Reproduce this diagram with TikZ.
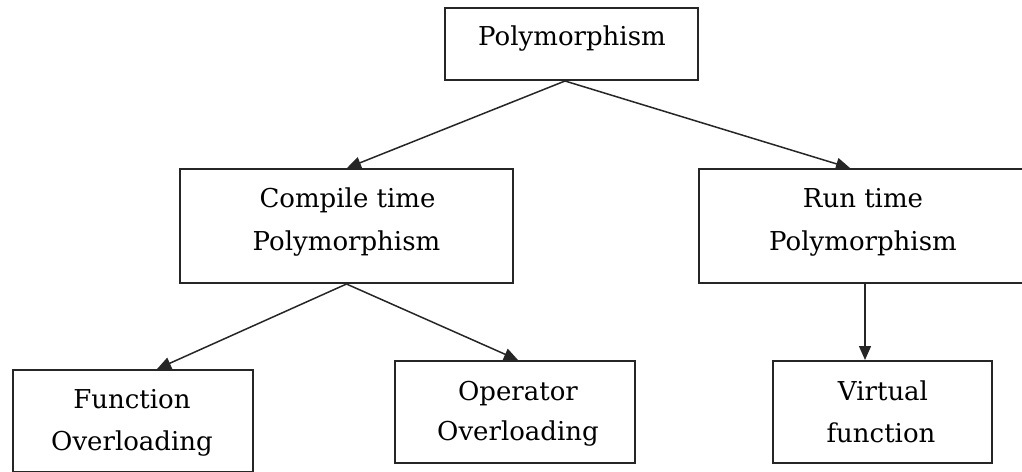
\documentclass[tikz,border=0pt]{standalone}
\usepackage{fontspec}
\setmainfont{DejaVu Serif}
\usetikzlibrary{arrows.meta}
\begin{document}
\begin{tikzpicture}[x=1pt,y=-1pt,
  box/.style={draw=black!85, line width=2pt, inner sep=0pt, rectangle},
  txt/.style={anchor=base, inner sep=0pt, font=\fontsize{26}{30}\selectfont, text=black},
  arr/.style={draw=black!85, line width=1.5pt, -{Triangle[length=14pt,width=12pt]}}]
\useasboundingbox (0,0) rectangle (1022,471);
\clip (0,0) rectangle (1022,471);
% boxes
\node[box, minimum width=253pt, minimum height=72pt]  (poly) at (571.5,44) {};
\node[box, minimum width=333pt, minimum height=114pt] (comp) at (346.5,226) {};
\node[box, minimum width=328pt, minimum height=114pt] (run)  at (863,226) {};
\node[box, minimum width=240pt, minimum height=102pt] (func) at (133,421) {};
\node[box, minimum width=240pt, minimum height=102pt] (op)   at (515,412) {};
\node[box, minimum width=219pt, minimum height=102pt] (virt) at (882.5,412) {};
% texts
\node[txt] (polyT)  at (572,45)    {Polymorphism};
\node[txt] (compT1) at (347.5,207) {Compile time};
\node[txt] (compT2) at (346.5,250) {Polymorphism};
\node[txt] (runT1)  at (863,207)   {Run time};
\node[txt] (runT2)  at (863,250)   {Polymorphism};
\node[txt] (funcT1) at (132,408)   {Function};
\node[txt] (funcT2) at (132,450)   {Overloading};
\node[txt] (opT1)   at (518,400)   {Operator};
\node[txt] (opT2)   at (518,440)   {Overloading};
\node[txt] (virtT1) at (883,400)   {Virtual};
\node[txt] (virtT2) at (881,442)   {function};
% connectors
\draw[arr] ([xshift=-6.5pt]poly.south) -- ([xshift=0.5pt]comp.north);
\draw[arr] ([xshift=-6.5pt]poly.south) -- ([xshift=-13pt]run.north);
\draw[arr] (comp.south) -- ([xshift=24pt]func.north);
\draw[arr] (comp.south) -- ([xshift=3pt]op.north);
\draw[arr] ([xshift=2pt]run.south) -- ([xshift=2pt]run.south |- virt.north);
\end{tikzpicture}
\end{document}
